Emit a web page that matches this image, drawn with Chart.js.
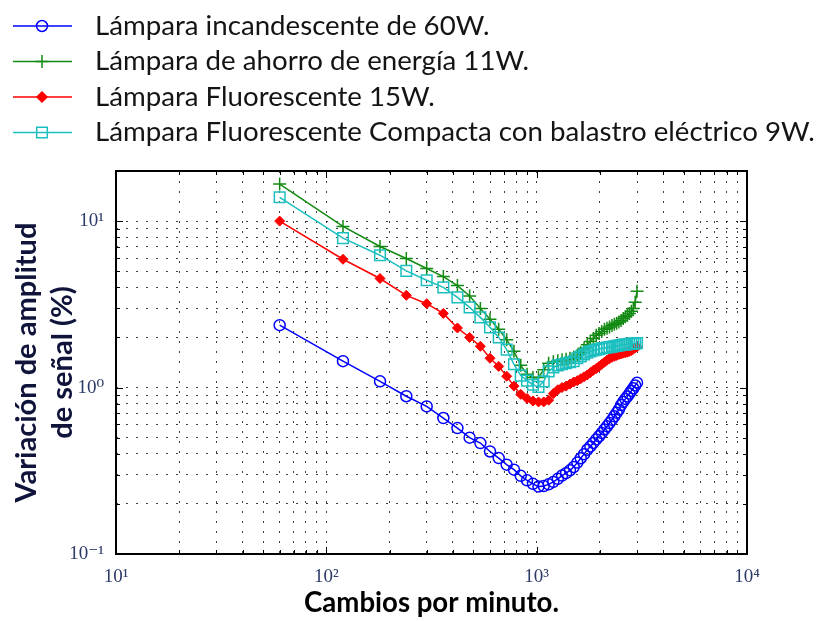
<!DOCTYPE html>
<html>
<head>
<meta charset="utf-8">
<script src="https://cdn.jsdelivr.net/npm/chart.js@4.4.1/dist/chart.umd.min.js"></script>
<style>
  html, body { margin: 0; padding: 0; background: #fff; }
  #wrap { width: 819px; height: 621px; }
</style>
</head>
<body>
<div id="wrap"><canvas id="lampChart" width="819" height="621"></canvas></div>
<script>
// Cambios por minuto (eje x)
const cyclesPerMin = [60, 120, 180, 240, 300, 360, 420, 480, 540, 600,
    660, 720, 780, 840, 900, 960, 1020, 1080, 1140, 1200,
    1260, 1320, 1380, 1440, 1500, 1560, 1620, 1680, 1740, 1800,
    1860, 1920, 1980, 2040, 2100, 2160, 2220, 2280, 2340, 2400,
    2460, 2520, 2580, 2640, 2700, 2760, 2820, 2880, 2940, 3000];

// Variación de amplitud (%) por lámpara
const incandescent60 = [2.37, 1.44, 1.09, 0.887, 0.77, 0.656, 0.571, 0.50, 0.464, 0.413,
    0.377, 0.344, 0.321, 0.295, 0.277, 0.264, 0.254, 0.256, 0.262, 0.271,
    0.283, 0.296, 0.306, 0.318, 0.333, 0.354, 0.376, 0.398, 0.423, 0.443,
    0.465, 0.488, 0.51, 0.533, 0.56, 0.585, 0.612, 0.64, 0.672, 0.705,
    0.738, 0.785, 0.82, 0.855, 0.885, 0.92, 0.955, 0.99, 1.03, 1.07];

const ahorro11 = [16.7, 9.29, 7.04, 5.96, 5.19, 4.64, 4.1, 3.55, 2.99, 2.57,
    2.24, 1.94, 1.65, 1.36, 1.2, 1.15, 1.15, 1.28, 1.40, 1.43,
    1.45, 1.47, 1.48, 1.50, 1.52, 1.56, 1.62, 1.72, 1.81, 1.89,
    1.97, 2.06, 2.11, 2.17, 2.24, 2.27, 2.31, 2.36, 2.40, 2.43,
    2.48, 2.53, 2.60, 2.66, 2.71, 2.79, 2.87, 2.99, 3.25, 3.79];

const fluorescente15 = [10.0, 5.9, 4.52, 3.58, 3.19, 2.79, 2.28, 2.0, 1.77, 1.50,
    1.34, 1.17, 1.02, 0.91, 0.86, 0.83, 0.82, 0.82, 0.84, 0.92,
    0.97, 1.0, 1.02, 1.05, 1.08, 1.10, 1.13, 1.16, 1.19, 1.23,
    1.27, 1.30, 1.34, 1.38, 1.42, 1.46, 1.49, 1.52, 1.54, 1.56,
    1.58, 1.59, 1.61, 1.62, 1.63, 1.65, 1.67, 1.70, 1.73, 1.76];

const compacta9 = [13.9, 7.9, 6.24, 5.02, 4.41, 4.0, 3.48, 3.03, 2.64, 2.30,
    2.0, 1.69, 1.38, 1.18, 1.10, 1.04, 1.01, 1.09, 1.25, 1.32,
    1.36, 1.38, 1.40, 1.42, 1.44, 1.50, 1.54, 1.58, 1.62, 1.65,
    1.67, 1.69, 1.70, 1.72, 1.73, 1.74, 1.75, 1.76, 1.77, 1.78,
    1.79, 1.80, 1.81, 1.81, 1.82, 1.83, 1.83, 1.84, 1.84, 1.85];

const seriesLabels = [
    'Lámpara incandescente de 60W.',
    'Lámpara de ahorro de energía 11W.',
    'Lámpara Fluorescente 15W.',
    'Lámpara Fluorescente Compacta con balastro eléctrico 9W.'
];

// Grid positions of both log axes
const xGridValues = [10, 20, 30, 40, 50, 60, 70, 80, 90,
    100, 200, 300, 400, 500, 600, 700, 800, 900,
    1000, 2000, 3000, 4000, 5000, 6000, 7000, 8000, 9000, 10000];
const yGridValues = [0.1, 0.2, 0.3, 0.4, 0.5, 0.6, 0.7, 0.8, 0.9,
    1, 2, 3, 4, 5, 6, 7, 8, 9, 10, 20];

const SUP = { '-': '⁻', '0': '⁰', '1': '¹', '2': '²', '3': '³', '4': '⁴' };

function isDecade(v) {
    const e = Math.log10(v);
    return Math.abs(e - Math.round(e)) < 1e-9;
}

function powerLabel(v) {
    if (!isDecade(v)) return '';
    const e = String(Math.round(Math.log10(v)));
    return '10' + e.split('').map(c => SUP[c]).join('');
}

// font size that makes a text span a given width
function fitFont(text, weight, family, width) {
    const c = document.createElement('canvas').getContext('2d');
    c.font = weight + ' 100px ' + family;
    return 100 * width / c.measureText(text).width;
}

const sansFamily = 'Lato, "Open Sans", sans-serif';
const legendSize = fitFont(seriesLabels[3], 'normal', sansFamily, 720);
const yTitleSize = fitFont('Variación de amplitud', 'bold', sansFamily, 280);
const xTitleSize = fitFont('Cambios por minuto.', 'bold', sansFamily, 255);

function toPoints(values) {
    return cyclesPerMin.map((x, i) => ({ x: x, y: values[i] }));
}

function drawMarker(ctx, style, x, y, r, color, fill) {
    ctx.save();
    ctx.strokeStyle = color;
    ctx.fillStyle = fill;
    ctx.lineWidth = 1.5;
    ctx.beginPath();
    if (style === 'circle') {
        ctx.arc(x, y, r, 0, Math.PI * 2);
    } else if (style === 'cross') {
        ctx.moveTo(x - r, y); ctx.lineTo(x + r, y);
        ctx.moveTo(x, y - r); ctx.lineTo(x, y + r);
    } else if (style === 'rectRot') {
        ctx.moveTo(x, y - r); ctx.lineTo(x + r, y);
        ctx.lineTo(x, y + r); ctx.lineTo(x - r, y); ctx.closePath();
        ctx.fill();
    } else if (style === 'rect') {
        const s = Math.SQRT1_2 * r;
        ctx.rect(x - s, y - s, 2 * s, 2 * s);
    }
    ctx.stroke();
    ctx.restore();
}

// box round the plot with inward ticks on all four sides
const axesFrame = {
    id: 'axesFrame',
    afterDatasetsDraw(chart) {
        const { ctx, chartArea: a, scales: { x, y } } = chart;
        ctx.save();
        ctx.strokeStyle = '#000';
        ctx.lineWidth = 1;
        ctx.beginPath();
        x.ticks.forEach(t => {
            const px = Math.round(x.getPixelForValue(t.value)) + 0.5;
            const len = isDecade(t.value) ? 7 : 4;
            ctx.moveTo(px, a.bottom); ctx.lineTo(px, a.bottom - len);
            ctx.moveTo(px, a.top); ctx.lineTo(px, a.top + len);
        });
        y.ticks.forEach(t => {
            const py = Math.round(y.getPixelForValue(t.value)) + 0.5;
            const len = isDecade(t.value) ? 7 : 4;
            ctx.moveTo(a.left, py); ctx.lineTo(a.left + len, py);
            ctx.moveTo(a.right, py); ctx.lineTo(a.right - len, py);
        });
        ctx.stroke();
        ctx.lineWidth = 2;
        ctx.strokeRect(a.left, a.top, a.right - a.left, a.bottom - a.top);
        ctx.restore();
    }
};

// legend above the plot: line, marker, label
const topLegend = {
    id: 'topLegend',
    afterDraw(chart) {
        const ctx = chart.ctx;
        chart.data.datasets.forEach((ds, i) => {
            const yRow = 26 + i * 35.5;
            ctx.save();
            ctx.strokeStyle = ds.borderColor;
            ctx.lineWidth = 1.5;
            ctx.beginPath();
            ctx.moveTo(13, yRow);
            ctx.lineTo(72, yRow);
            ctx.stroke();
            ctx.restore();
            drawMarker(ctx, ds.pointStyle, 42, yRow, ds.pointRadius, ds.borderColor, ds.pointBackgroundColor);
            ctx.save();
            ctx.fillStyle = '#141414';
            ctx.font = legendSize.toFixed(2) + 'px ' + sansFamily;
            ctx.textBaseline = 'middle';
            ctx.textAlign = 'left';
            ctx.fillText(ds.label, 95, yRow);
            ctx.restore();
        });
    }
};

const tickFont = { family: '"Liberation Serif", "DejaVu Serif", serif', size: 19 };
const tickColor = '#2b3a67';

const chart = new Chart(document.getElementById('lampChart'), {
    type: 'line',
    data: {
        datasets: [{
            label: seriesLabels[0],
            data: toPoints(incandescent60),
            borderColor: '#0000ff',
            backgroundColor: '#0000ff',
            pointStyle: 'circle',
            pointRadius: 5.5,
            pointBorderWidth: 1.5,
            pointBackgroundColor: 'rgba(0,0,0,0)',
            borderWidth: 1.5,
            order: 3
        }, {
            label: seriesLabels[1],
            data: toPoints(ahorro11),
            borderColor: '#138a13',
            backgroundColor: '#138a13',
            pointStyle: 'cross',
            pointRadius: 6.5,
            pointBorderWidth: 1.5,
            pointBackgroundColor: 'rgba(0,0,0,0)',
            borderWidth: 1.5,
            order: 2
        }, {
            label: seriesLabels[2],
            data: toPoints(fluorescente15),
            borderColor: '#ff0000',
            backgroundColor: '#ff0000',
            pointStyle: 'rectRot',
            pointRadius: 5,
            pointBorderWidth: 1,
            pointBackgroundColor: '#ff0000',
            borderWidth: 1.5,
            order: 1
        }, {
            label: seriesLabels[3],
            data: toPoints(compacta9),
            borderColor: '#1cbfbf',
            backgroundColor: '#1cbfbf',
            pointStyle: 'rect',
            pointRadius: 7.5,
            pointBorderWidth: 1.5,
            pointBackgroundColor: 'rgba(0,0,0,0)',
            borderWidth: 1.5,
            order: 0
        }]
    },
    options: {
        responsive: false,
        animation: false,
        events: [],
        layout: { padding: { top: 171, right: 72, left: 0, bottom: 0 } },
        plugins: {
            legend: { display: false },
            tooltip: { enabled: false }
        },
        scales: {
            x: {
                type: 'logarithmic',
                position: 'bottom',
                min: 10,
                max: 10000,
                afterBuildTicks: scale => { scale.ticks = xGridValues.map(v => ({ value: v })); },
                afterFit: scale => { scale.height = 67; },
                grid: { color: 'rgba(0,0,0,0.75)', lineWidth: 1, drawTicks: false },
                border: { display: false, dash: [2, 8] },
                ticks: {
                    autoSkip: false,
                    maxRotation: 0,
                    padding: 12,
                    font: tickFont,
                    color: tickColor,
                    callback: v => powerLabel(v)
                },
                title: {
                    display: true,
                    text: 'Cambios por minuto.',
                    color: '#000',
                    font: { family: sansFamily, size: xTitleSize, weight: 'bold', lineHeight: 1.2 },
                    padding: { top: 0, bottom: 1 }
                }
            },
            y: {
                type: 'logarithmic',
                min: 0.1,
                max: 20,
                afterBuildTicks: scale => { scale.ticks = yGridValues.map(v => ({ value: v })); },
                afterFit: scale => { scale.width = 116; },
                grid: { color: 'rgba(0,0,0,0.75)', lineWidth: 1, drawTicks: false },
                border: { display: false, dash: [2, 8] },
                ticks: {
                    autoSkip: false,
                    padding: 12,
                    font: tickFont,
                    color: tickColor,
                    callback: v => powerLabel(v)
                },
                title: {
                    display: true,
                    text: ['Variación de amplitud', 'de señal (%)'],
                    color: '#10143a',
                    font: { family: sansFamily, size: yTitleSize, weight: 'bold', lineHeight: 36 / yTitleSize },
                    padding: { top: 9, bottom: 0 }
                }
            }
        }
    },
    plugins: [axesFrame, topLegend]
});
</script>
</body>
</html>
